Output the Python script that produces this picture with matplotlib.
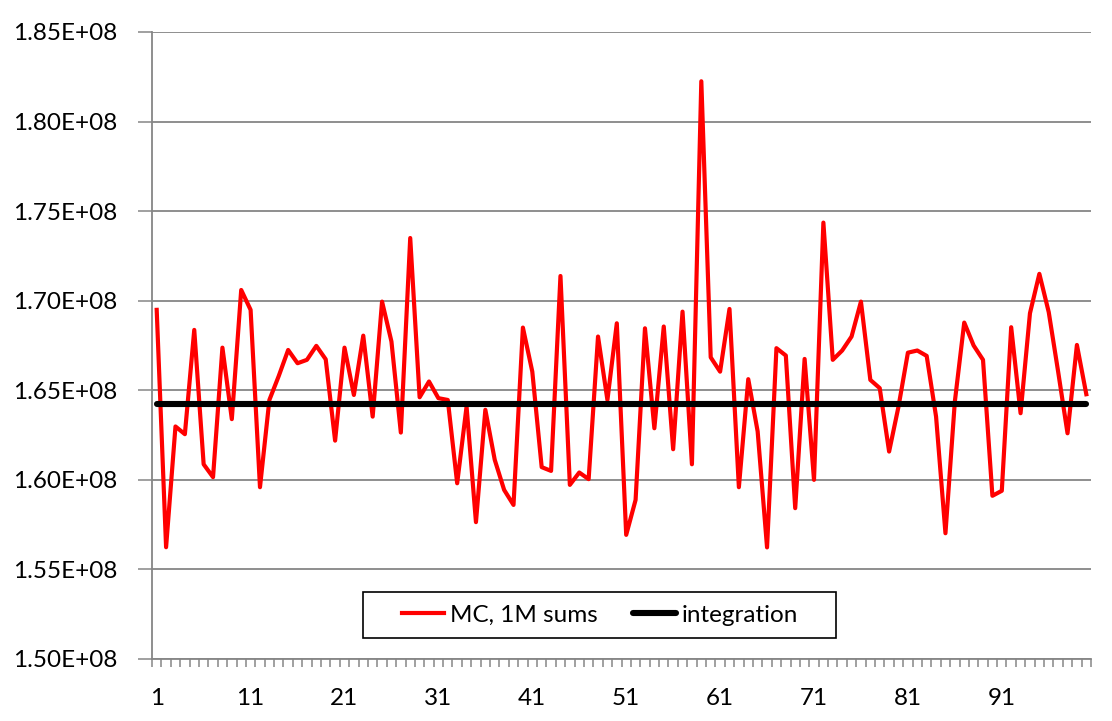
import numpy as np
import matplotlib
matplotlib.use("Agg")
import matplotlib.pyplot as plt
from matplotlib.patches import Rectangle
from matplotlib.ticker import FuncFormatter, MultipleLocator

# Monte Carlo runs (1M sums each), in units of 1e8
mc = [1.6949, 1.5624, 1.6298, 1.6255, 1.6837, 1.6087, 1.6015, 1.6738, 1.6339, 1.7060,
      1.6949, 1.5959, 1.6446, 1.6580, 1.6725, 1.6651, 1.6670, 1.6748, 1.6673, 1.6219,
      1.6738, 1.6474, 1.6805, 1.6353, 1.6995, 1.6772, 1.6264, 1.7350, 1.6461, 1.6549,
      1.6456, 1.6446, 1.5981, 1.6409, 1.5764, 1.6391, 1.6112, 1.5944, 1.5860, 1.6850,
      1.6604, 1.6071, 1.6050, 1.7138, 1.5972, 1.6041, 1.6004, 1.6800, 1.6446, 1.6874,
      1.5693, 1.5888, 1.6846, 1.6288, 1.6856, 1.6171, 1.6939, 1.6087, 1.8225, 1.6684,
      1.6604, 1.6954, 1.5959, 1.6562, 1.6270, 1.5623, 1.6735, 1.6694, 1.5842, 1.6675,
      1.6000, 1.7436, 1.6670, 1.6722, 1.6800, 1.6995, 1.6558, 1.6512, 1.6158, 1.6409,
      1.6710, 1.6722, 1.6692, 1.6353, 1.5702, 1.6437, 1.6878, 1.6750, 1.6670, 1.5911,
      1.5939, 1.6852, 1.6372, 1.6930, 1.7150, 1.6936, 1.6604, 1.6260, 1.6753, 1.6478]
integration = 1.6425

mc = np.array(mc) * 1e8
runs = np.arange(1, len(mc) + 1)
integ = np.full(len(mc), integration * 1e8)

plt.rcParams['font.family'] = ['Lato', 'DejaVu Sans']

W, H = 1112, 721
fig = plt.figure(figsize=(W / 100, H / 100), dpi=100)
ax = fig.add_axes([152 / W, 1 - 659 / H, (1091 - 152) / W, (659 - 32) / H])

ax.plot(runs, mc, color="#ff0000", lw=3.0, label="MC, 1M sums", zorder=3)
ax.plot(runs, integ, color="black", lw=4.4, solid_capstyle="round", label="integration", zorder=4)

ax.set_xlim(0.5, len(mc) + 0.5)
ax.set_ylim(1.5e8, 1.85e8)

ax.yaxis.set_major_locator(MultipleLocator(0.05e8))
ax.yaxis.set_major_formatter(FuncFormatter(lambda v, p: "%.2fE+08" % (v / 1e8)))
ax.grid(axis="y", color="#868686", lw=1.3, zorder=0)

ax.set_xticks(np.arange(1, 101, 10))
ax.set_xticklabels([str(i) for i in range(1, 101, 10)])
ax.set_xticks(np.arange(0.5, 101, 1), minor=True)
ax.tick_params(axis="x", which="major", length=0, pad=21, labelsize=17.5)
ax.tick_params(axis="x", which="minor", length=6, width=1.1, color="#868686")
ax.tick_params(axis="y", length=10, width=1.1, color="#868686", pad=15, labelsize=17.5)

for s in ["top", "right"]:
    ax.spines[s].set_visible(False)
for s in ["left", "bottom"]:
    ax.spines[s].set_color("#868686")
    ax.spines[s].set_linewidth(1.3)

# legend without its own frame; box drawn separately (wider side padding as in the original)
box = Rectangle((363 / W, 1 - 638 / H), (836 - 363) / W, (638 - 592) / H,
                transform=fig.transFigure, facecolor="white",
                edgecolor="black", lw=1.2, zorder=5, clip_on=False)
ax.add_patch(box)
leg = ax.legend(loc="center", bbox_to_anchor=((600 - 152) / 939, (659 - 615) / 627), ncol=2,
                fontsize=17.5, frameon=False, handlelength=1.75, handletextpad=0.25,
                columnspacing=1.45)
leg.set_zorder(6)

fig.savefig("out.png", dpi=100)
